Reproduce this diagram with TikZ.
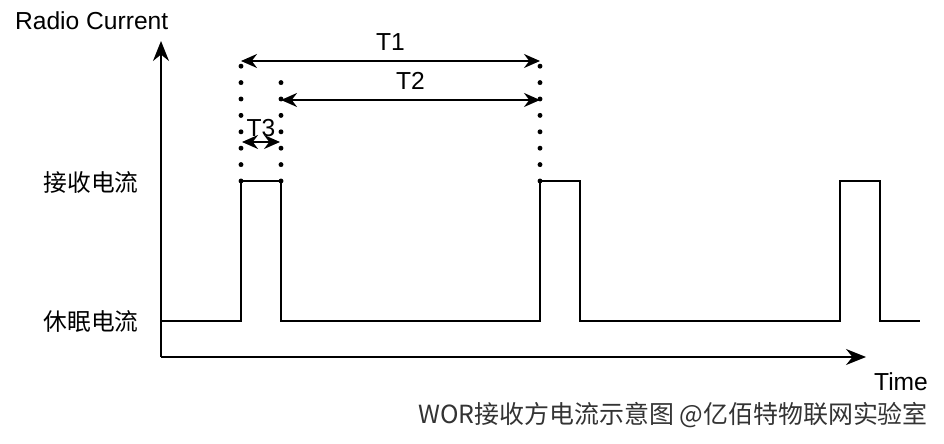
\documentclass[tikz,border=0pt]{standalone}
\usepackage{fontspec}
\setmainfont{Liberation Sans}
\newfontfamily\cjkfont{Noto Sans CJK SC}
\usetikzlibrary{positioning, arrows.meta}
\tikzset{
  axis/.style={
    line width=1.1pt,
    -{Stealth[length=4mm, width=3.2mm]},
  },
  wave/.style={
    line width=1.1pt, line join=miter,
  },
  span/.style={
    line width=1.1pt,
    {Stealth[length=3.2mm, width=2.8mm]}-{Stealth[length=3.2mm, width=2.8mm]},
  },
  guide/.style={
    line width=2.8pt, line cap=round,
    dash pattern=on 0pt off 3.28mm,
  },
  level/.style={
    anchor=east, inner sep=0pt,
    font=\cjkfont\fontsize{13.5}{15}\selectfont,
  },
  tag/.style={
    inner sep=1pt,
    font=\fontsize{14}{16}\selectfont,
  },
}

\begin{document}
\begin{tikzpicture}[x=0.2mm, y=-0.2mm]
\useasboundingbox (0,0) rectangle (944,444);
% axes
\coordinate (o) at (161,357);
\coordinate (ytop) at (161,41);
\coordinate (xend) at (866,357);
\draw[axis] (o) -- (ytop);
\draw[axis] (o) -- (xend);
\node[tag, anchor=west] (ylabel) at (13,21) {Radio Current};
\node[tag, anchor=east] (xlabel) at (930,382) {Time};
\node[level] (rx) at (139,183) {接收电流};
\node[level] (sleep) at (139,322) {休眠电流};

% pulses
\foreach \i/\x in { 1/241, 2/540, 3/840 } {
  \coordinate (up-\i) at (\x,181);
  \coordinate (dn-\i) at (\x+40,181);
  \coordinate (lo-\i) at (\x,321);
  \coordinate (end-\i) at (\x+40,321);
}
\coordinate (start) at (161,321);
\coordinate (stop) at (920,321);
\draw[wave] (start) -- (lo-1) -- (up-1) -- (dn-1) -- (end-1)
  -- (lo-2) -- (up-2) -- (dn-2) -- (end-2)
  -- (lo-3) -- (up-3) -- (dn-3) -- (end-3) -- (stop);

% dotted guides
\coordinate (g-1) at (241,50);
\coordinate (g-2) at (281,82);
\coordinate (g-3) at (540,50);
\draw[guide] (up-1) -- (g-1);
\draw[guide] (dn-1) -- (g-2);
\draw[guide] (up-2) -- (g-3);

% periods
\coordinate (t1a) at (241,61);
\coordinate (t1b) at (540,61);
\coordinate (t2a) at (281,100);
\coordinate (t2b) at (540,100);
\coordinate (t3a) at (242,142);
\coordinate (t3b) at (280,142);
\draw[span] (t1a) -- node[tag, above=1.5mm] (t1) {T1} (t1b);
\draw[span] (t2a) -- node[tag, above=1.5mm] (t2) {T2} (t2b);
\draw[span] (t3a) -- node[tag, above=0.5mm] (t3) {T3} (t3b);

\node[anchor=east, inner sep=1pt, text=black!80,
  font=\cjkfont\fontsize{14.2}{16}\selectfont]
  (caption) at (930,415) {WOR接收方电流示意图 @亿佰特物联网实验室};
\end{tikzpicture}
\end{document}
